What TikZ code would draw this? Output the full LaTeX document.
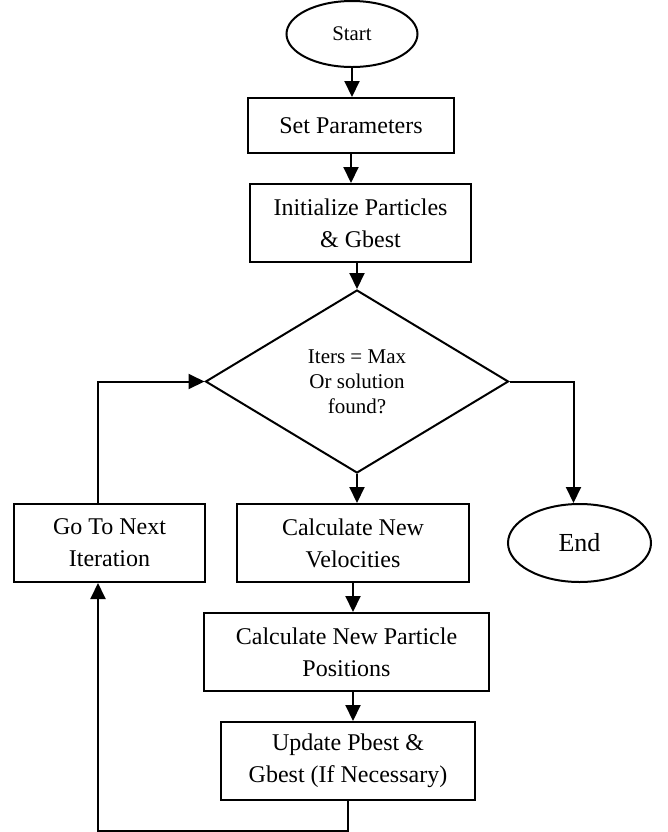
\documentclass[tikz,border=0pt]{standalone}
\usepackage{fontspec}
\setmainfont{Liberation Serif}
\usetikzlibrary{shapes.geometric,arrows.meta}
\begin{document}
\begin{tikzpicture}[x=0.5pt, y=-0.5pt]
                \tikzstyle{every node}=[draw=black, line width=1pt, inner sep=2pt, align=center, font=\fontsize{12}{16}\selectfont, text=black]
                \tikzstyle{box}=[rectangle, minimum height=39pt]
                \tikzstyle{oval}=[ellipse]
                \tikzstyle{edge}=[black, line width=1pt, -{Triangle[length=8pt, width=7.5pt]}]

                \useasboundingbox (0,0) rectangle (668,832);

                \node[oval, minimum width=65.5pt, minimum height=33pt, font=\fontsize{10.4}{12}\selectfont] (start) at (352,34) {Start};
                \node[box, minimum width=103pt, minimum height=27.5pt] (params) at (351,125.5) {Set Parameters};
                \node[box, minimum width=110.5pt] (init) at (360.5,223) {Initialize Particles\\\& Gbest};
                \node[diamond, inner sep=0pt, minimum width=151.5pt, minimum height=91.5pt, font=\fontsize{10.5}{12.5}\selectfont] (check) at (357,381.5) {Iters = Max\\Or solution\\found?};
                \node[box, minimum width=116pt] (velo) at (353,543) {Calculate New\\Velocities};
                \node[box, minimum width=142.5pt] (pos) at (346.5,652) {Calculate New Particle\\Positions};
                \node[box, minimum width=127pt] (update) at (348,761) {Update Pbest \&\\Gbest (If Necessary)};
                \node[box, minimum width=95.5pt] (next) at (109.5,543) {Go To Next\\Iteration};
                \node[oval, minimum width=71.5pt, minimum height=39pt, font=\fontsize{13}{15}\selectfont] (end) at (579.5,543) {End};
                \coordinate (loop) at (98,0);

                \draw[edge] (start) -- (start |- params.north);
                \draw[edge] (params) -- (params |- init.north);
                \draw[edge] (init.south -| check.north) -- (check.north);
                \draw[edge] (check.south) -- (check.south |- velo.north);
                \draw[edge] (velo.south) -- (velo.south |- pos.north);
                \draw[edge] (velo.south |- pos.south) -- (velo.south |- update.north);
                \draw[edge] (check.east) -| ([xshift=-3pt]end.north);
                \draw[edge] (update.south) -- ++(0,30) -| (loop |- next.south);
                \draw[edge] (loop |- next.north) |- (check.west);
            \end{tikzpicture}
\end{document}
